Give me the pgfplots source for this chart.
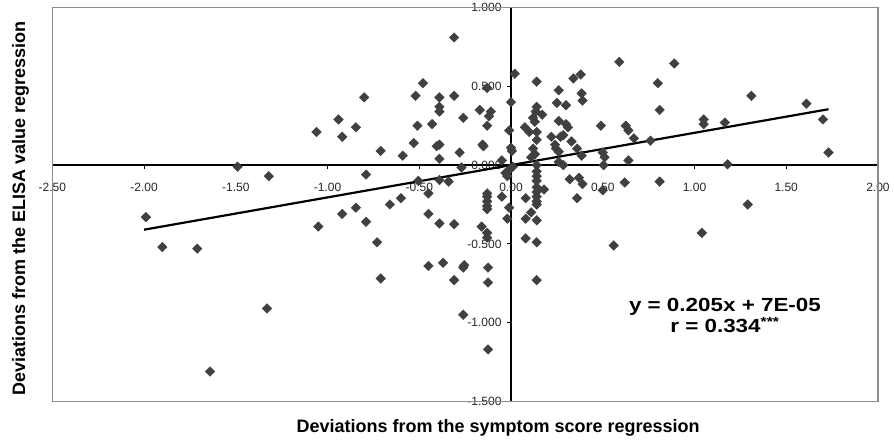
\documentclass[border=0pt]{standalone}
\usepackage{fontspec}
\setmainfont{Liberation Sans}
\usepackage{pgfplots}
\pgfplotsset{compat=1.18}
\definecolor{pt}{HTML}{404040}
\definecolor{frame}{HTML}{8C8C8C}
\pgfplotstableread{
x y
-1.99 -0.33
-1.90 -0.52
-1.71 -0.53
-1.64 -1.31
-1.49 -0.01
-1.32 -0.07
-1.33 -0.91
-1.06 0.21
-1.05 -0.39
-0.94 0.29
-0.92 0.18
-0.92 -0.31
-0.845 0.24
-0.845 -0.27
-0.80 0.43
-0.79 -0.06
-0.79 -0.36
-0.73 -0.49
-0.71 0.09
-0.71 -0.72
-0.66 -0.25
-0.60 -0.21
-0.59 0.06
-0.53 0.14
-0.52 0.44
-0.48 0.52
-0.51 0.25
-0.505 -0.10
-0.45 -0.18
-0.45 -0.31
-0.45 -0.64
-0.43 0.26
-0.39 0.43
-0.39 0.37
-0.39 0.34
-0.405 0.12
-0.39 0.13
-0.39 0.04
-0.39 -0.095
-0.39 -0.37
-0.37 -0.62
-0.34 -0.105
-0.31 0.81
-0.31 0.44
-0.31 -0.375
-0.31 -0.73
-0.28 0.08
-0.26 0.30
-0.27 -0.015
-0.26 -0.65
-0.255 -0.635
-0.26 -0.95
-0.17 0.35
-0.13 0.49
-0.11 0.34
-0.12 0.31
-0.13 0.25
-0.155 0.13
-0.15 0.12
-0.16 -0.39
-0.13 -0.18
-0.13 -0.20
-0.13 -0.23
-0.13 -0.26
-0.13 -0.28
-0.13 -0.43
-0.13 -0.46
-0.125 -0.65
-0.125 -0.745
-0.125 -1.17
-0.05 0.03
-0.05 -0.20
0.02 0.58
0.00 0.40
-0.01 0.22
0.00 0.11
0.005 0.09
-0.03 -0.05
-0.02 -0.07
-0.01 -0.03
-0.01 -0.27
-0.02 -0.34
0.01 -0.01
0.14 0.53
0.26 0.475
0.34 0.55
0.38 0.575
0.385 0.455
0.39 0.41
0.59 0.655
0.25 0.395
0.30 0.38
0.14 0.37
0.135 0.34
0.17 0.32
0.12 0.30
0.13 0.275
0.076 0.24
0.10 0.21
0.14 0.21
0.14 0.16
0.26 0.28
0.30 0.26
0.31 0.24
0.285 0.19
0.27 0.18
0.22 0.18
0.49 0.25
0.625 0.25
0.64 0.22
0.67 0.17
0.33 0.15
0.24 0.13
0.245 0.105
0.36 0.105
0.385 0.06
0.26 0.085
0.12 0.105
0.13 0.07
0.11 0.05
0.14 0.00
0.26 0.02
0.285 0.00
0.50 0.08
0.51 0.05
0.505 0.00
0.64 0.03
0.89 0.645
0.80 0.52
0.81 0.35
1.31 0.44
1.61 0.39
1.70 0.29
1.73 0.08
1.05 0.29
1.05 0.26
1.165 0.27
0.76 0.155
1.18 0.005
0.14 -0.04
0.14 -0.07
0.14 -0.10
0.14 -0.14
0.14 -0.17
0.14 -0.20
0.14 -0.23
0.14 -0.25
0.18 -0.155
0.08 -0.21
0.11 -0.30
0.08 -0.34
0.14 -0.35
0.08 -0.465
0.14 -0.49
0.14 -0.73
0.32 -0.09
0.37 -0.08
0.39 -0.12
0.36 -0.21
0.50 -0.16
0.62 -0.11
0.81 -0.105
0.56 -0.51
1.04 -0.43
1.29 -0.25
}\scatterdata
\begin{document}
\begin{tikzpicture}
\begin{axis}[
  scale only axis, width=826pt, height=394pt,
  xmin=-2.5, xmax=2, ymin=-1.5, ymax=1,
  clip=false,
  axis lines=center,
  axis line style={black, line width=1.5pt, -},
  xtick={-2.5,-2,-1.5,-1,-0.5,0,0.5,1,1.5,2},
  ytick={-1.5,-1,-0.5,0,0.5,1},
  hide obscured x ticks=false, hide obscured y ticks=false,
  tick align=outside, major tick length=4pt,
  tick style={black, line width=1pt},
  scaled ticks=false,
  /pgf/number format/assume math mode=true,
  tick label style={font=\fontsize{12}{14}\selectfont, text=black!85},
  x tick label style={/pgf/number format/.cd, fixed, fixed zerofill, precision=2, /tikz/.cd, yshift=-10pt},
  y tick label style={/pgf/number format/.cd, fixed, fixed zerofill, precision=3, /tikz/.cd, xshift=-2pt},
  xlabel={Deviations from the symptom score regression},
  xlabel style={at={(axis description cs:0.54,0)}, anchor=north, inner sep=0pt, yshift=-18pt, font=\bfseries\fontsize{18}{20}\selectfont},
  ylabel={Deviations from the ELISA value regression},
  ylabel style={at={(axis description cs:-0.028,0.489)}, anchor=south, rotate=90, inner sep=0pt, font=\bfseries\fontsize{18}{20}\selectfont},
]
\path (rel axis cs:-0.0633,-0.0971) rectangle (rel axis cs:1.0194,1.0185);
\draw[frame, line width=1.2pt] (rel axis cs:0,0) rectangle (rel axis cs:1,1);
\addplot[black, line width=2.2pt, no marks] coordinates {(-2.0,-0.40993) (1.73,0.35472)};
\addplot[only marks, mark=square*, mark size=3.4pt, mark options={rotate=45, fill=pt, draw=pt}] table[x=x, y=y] {\scatterdata};
\node[align=center, font=\bfseries\fontsize{19}{19}\selectfont] at (axis cs:1.166,-0.955) {\scalebox{1.18}[1]{y = 0.205x + 7E-05}\\\scalebox{1.18}[1]{r = 0.334\textsuperscript{***}}};
\end{axis}
\end{tikzpicture}
\end{document}
